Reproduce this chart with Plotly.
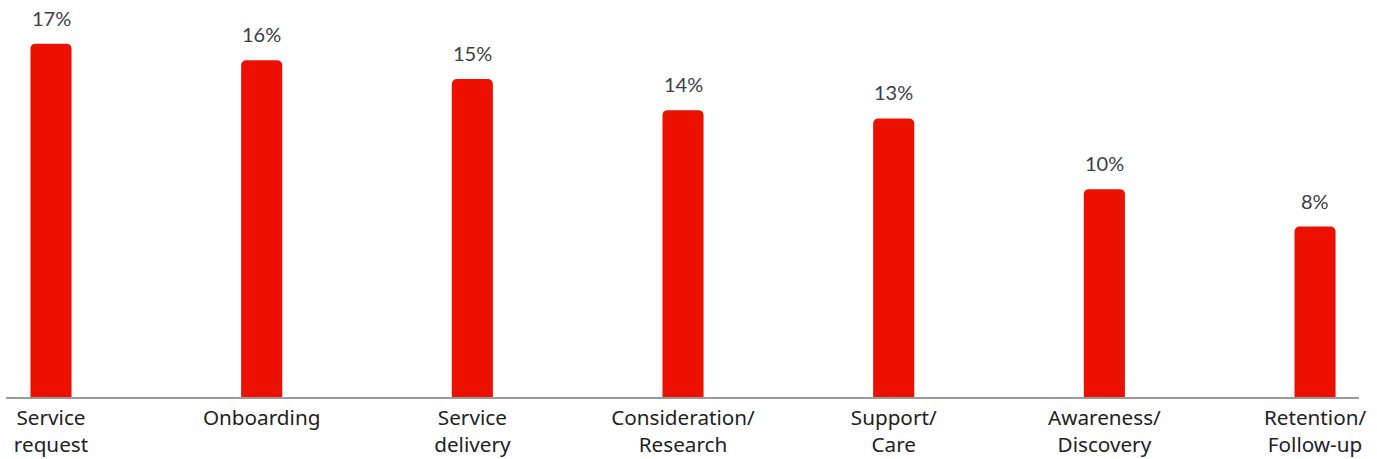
import plotly.graph_objects as go

categories = ["Service<br>request", "Onboarding", "Service<br>delivery", "Consideration/<br>Research",
              "Support/<br>Care", "Awareness/<br>Discovery", "Retention/<br>Follow-up"]
values = [17.0, 16.2, 15.3, 13.8, 13.4, 10.0, 8.2]
value_labels = ["17%", "16%", "15%", "14%", "13%", "10%", "8%"]

x_pos = list(range(len(categories)))

fig = go.Figure()
fig.add_trace(go.Bar(
    x=x_pos, y=values, width=0.195,
    marker=dict(color="#EB1000", cornerradius=5, line=dict(width=0)),
    hoverinfo="skip",
))

for xi, v, t in zip(x_pos, values, value_labels):
    fig.add_annotation(x=xi, y=v, text=t, showarrow=False, yanchor="bottom",
                       yshift=12, font=dict(family="Lato", size=20, color="#3d3d45"))

fig.update_layout(
    width=1377, height=459,
    margin=dict(l=6, r=18, t=0, b=62),
    paper_bgcolor="white", plot_bgcolor="white",
    showlegend=False,
    xaxis=dict(range=[-0.2136, 6.2087], tickvals=x_pos, ticktext=categories,
               showgrid=False, zeroline=False, showline=True, linecolor="#9a9a9a", linewidth=2,
               ticks="", tickfont=dict(family="Noto Sans", size=20.7, color="#222222"),
               ticklabelstandoff=1),
    yaxis=dict(range=[0, 19.1], visible=False, showgrid=False, zeroline=False),
)

fig.write_html("out.html", config={"displayModeBar": False},
               post_script="document.body.style.margin='0';document.body.style.overflow='hidden';")
